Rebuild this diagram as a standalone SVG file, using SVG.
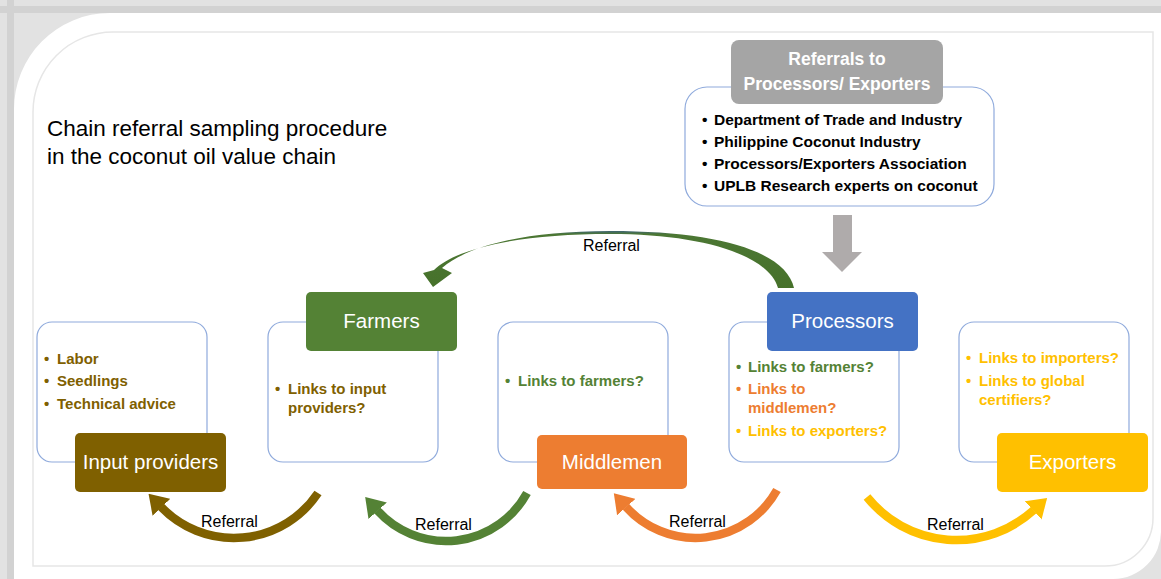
<svg xmlns="http://www.w3.org/2000/svg" width="1161" height="579" viewBox="0 0 1161 579">
<style>
text{font-family:"Liberation Sans",Arial,sans-serif}
.box{fill:#fff;stroke:#8faadc;stroke-width:1.2}
.lbl{font-size:20.5px;fill:#fff;text-anchor:middle}
.b{font-size:15px;font-weight:bold}
.tb{font-size:15.5px;font-weight:bold;fill:#000}
.ref{font-size:16px;fill:#000}
.arc{fill:none;stroke-width:8.5}
</style>
<defs>
<marker id="mBrown" viewBox="0 -1.45 2.2 2.9" refX="0.05" refY="0" markerWidth="2.2" markerHeight="2.9" orient="auto" markerUnits="strokeWidth"><path d="M0,-1.45 L2.2,0 L0,1.45 Z" fill="#7f6000"/></marker>
<marker id="mGreen" viewBox="0 -1.45 2.2 2.9" refX="0.05" refY="0" markerWidth="2.2" markerHeight="2.9" orient="auto" markerUnits="strokeWidth"><path d="M0,-1.45 L2.2,0 L0,1.45 Z" fill="#548235"/></marker>
<marker id="mOrange" viewBox="0 -1.45 2.2 2.9" refX="0.05" refY="0" markerWidth="2.2" markerHeight="2.9" orient="auto" markerUnits="strokeWidth"><path d="M0,-1.45 L2.2,0 L0,1.45 Z" fill="#ed7d31"/></marker>
<marker id="mYellow" viewBox="0 -1.45 2.2 2.9" refX="0.05" refY="0" markerWidth="2.2" markerHeight="2.9" orient="auto" markerUnits="strokeWidth"><path d="M0,-1.45 L2.2,0 L0,1.45 Z" fill="#ffc000"/></marker>
<linearGradient id="gTop" gradientUnits="userSpaceOnUse" x1="0" y1="230" x2="0" y2="290">
<stop offset="0" stop-color="#3b5f86"/>
<stop offset="0.07" stop-color="#4c7734"/>
<stop offset="1" stop-color="#46712a"/>
</linearGradient>
</defs>

<g id="frame">
<rect width="1161" height="579" fill="#e2e2e2"/>
<rect x="0" y="6" width="1161" height="7" fill="#d2d2d2"/>
<rect x="7" y="0" width="7" height="579" fill="#d2d2d2"/>
<path d="M14,110 A96,96 0 0 1 110,13 L1161,13 L1161,530 A48,48 0 0 1 1113,579 L14,579 Z" fill="#fff"/>
<path d="M33,112 A80,80 0 0 1 113,32 L1153,32 L1153,518 A48,48 0 0 1 1105,566 L33,566 Z" fill="none" stroke="#e6e6e6" stroke-width="1.5"/>
</g>

<g id="title">
<text x="47" y="136" font-size="22.5" fill="#000">Chain referral sampling procedure</text>
<text x="47" y="164" font-size="22.5" fill="#000">in the coconut oil value chain</text>
</g>

<g id="referral-sources">
<rect class="box" x="685" y="87" width="309" height="119" rx="22"/>
<rect x="731" y="40" width="212" height="64" rx="8" fill="#a5a5a5"/>
<text x="837" y="65" font-size="17.5" font-weight="bold" fill="#fff" text-anchor="middle">Referrals to</text>
<text x="837" y="90" font-size="17.5" font-weight="bold" fill="#fff" text-anchor="middle">Processors/ Exporters</text>
<text class="tb" x="702" y="125">•</text><text class="tb" x="714" y="125">Department of Trade and Industry</text>
<text class="tb" x="702" y="147">•</text><text class="tb" x="714" y="147">Philippine Coconut Industry</text>
<text class="tb" x="702" y="169">•</text><text class="tb" x="714" y="169">Processors/Exporters Association</text>
<text class="tb" x="702" y="191">•</text><text class="tb" x="714" y="191">UPLB Research experts on coconut</text>
</g>

<g id="input-providers">
<rect class="box" x="37" y="322" width="170" height="140" rx="15"/>
<g class="b" fill="#7f6000">
<text x="44" y="364">•</text><text x="57" y="364">Labor</text>
<text x="44" y="386">•</text><text x="57" y="386">Seedlings</text>
<text x="44" y="409">•</text><text x="57" y="409">Technical advice</text>
</g>
<rect x="75" y="433" width="151" height="59" rx="5" fill="#7f6000"/>
<text class="lbl" x="150.5" y="469">Input providers</text>
</g>

<g id="farmers">
<rect class="box" x="268" y="322" width="170" height="140" rx="15"/>
<g class="b" fill="#7f6000">
<text x="275" y="394">•</text><text x="288" y="394">Links to input</text>
<text x="288" y="413">providers?</text>
</g>
<rect x="306" y="292" width="151" height="59" rx="5" fill="#548235"/>
<text class="lbl" x="381.5" y="328">Farmers</text>
</g>

<g id="middlemen">
<rect class="box" x="498" y="322" width="170" height="140" rx="15"/>
<g class="b" fill="#548235">
<text x="505" y="386">•</text><text x="518" y="386">Links to farmers?</text>
</g>
<rect x="537" y="435" width="150" height="54" rx="5" fill="#ed7d31"/>
<text class="lbl" x="612" y="469">Middlemen</text>
</g>

<g id="processors">
<rect class="box" x="729" y="322" width="170" height="140" rx="15"/>
<g class="b">
<text x="736" y="372" fill="#548235">•</text><text x="748" y="372" fill="#548235">Links to farmers?</text>
<text x="736" y="394" fill="#ed7d31">•</text><text x="748" y="394" fill="#ed7d31">Links to</text>
<text x="748" y="413" fill="#ed7d31">middlemen?</text>
<text x="736" y="436" fill="#ffc000">•</text><text x="748" y="436" fill="#ffc000">Links to exporters?</text>
</g>
<rect x="767" y="292" width="151" height="59" rx="5" fill="#4472c4"/>
<text class="lbl" x="842.5" y="328">Processors</text>
</g>

<g id="exporters">
<rect class="box" x="959" y="322" width="170" height="140" rx="15"/>
<g class="b" fill="#ffc000">
<text x="966" y="363">•</text><text x="979" y="363">Links to importers?</text>
<text x="966" y="386">•</text><text x="979" y="386">Links to global</text>
<text x="979" y="405">certifiers?</text>
</g>
<rect x="997" y="433" width="151" height="59" rx="5" fill="#ffc000"/>
<text class="lbl" x="1072.5" y="469">Exporters</text>
</g>

<g id="connectors">
<path d="M833,215 L852,215 L852,252 L862,252 L842,272 L822,252 L833,252 Z" fill="#afabab"/>
<path d="M794,288 C786,252 720,231 610,231 C522,231 466,247 442,268 L452,273 L433,287 L423,273 L434,270 C458,247 522,234 610,234 C700,234 768,254 778,288 Z" fill="url(#gTop)"/>
<path class="arc" d="M318,493 A101,101 0 0 1 161.2,507" stroke="#7f6000" marker-end="url(#mBrown)"/>
<path class="arc" d="M527,493 A92.3,92.3 0 0 1 377.4,510.5" stroke="#548235" marker-end="url(#mGreen)"/>
<path class="arc" d="M777,490 A93.2,93.2 0 0 1 626,506.8" stroke="#ed7d31" marker-end="url(#mOrange)"/>
<path class="arc" d="M867,497 A114.6,114.6 0 0 0 1033.6,510.2" stroke="#ffc000" marker-end="url(#mYellow)"/>
<text class="ref" x="583" y="251">Referral</text>
<text class="ref" x="201" y="527">Referral</text>
<text class="ref" x="415" y="530">Referral</text>
<text class="ref" x="669" y="527">Referral</text>
<text class="ref" x="927" y="530">Referral</text>
</g>
</svg>
